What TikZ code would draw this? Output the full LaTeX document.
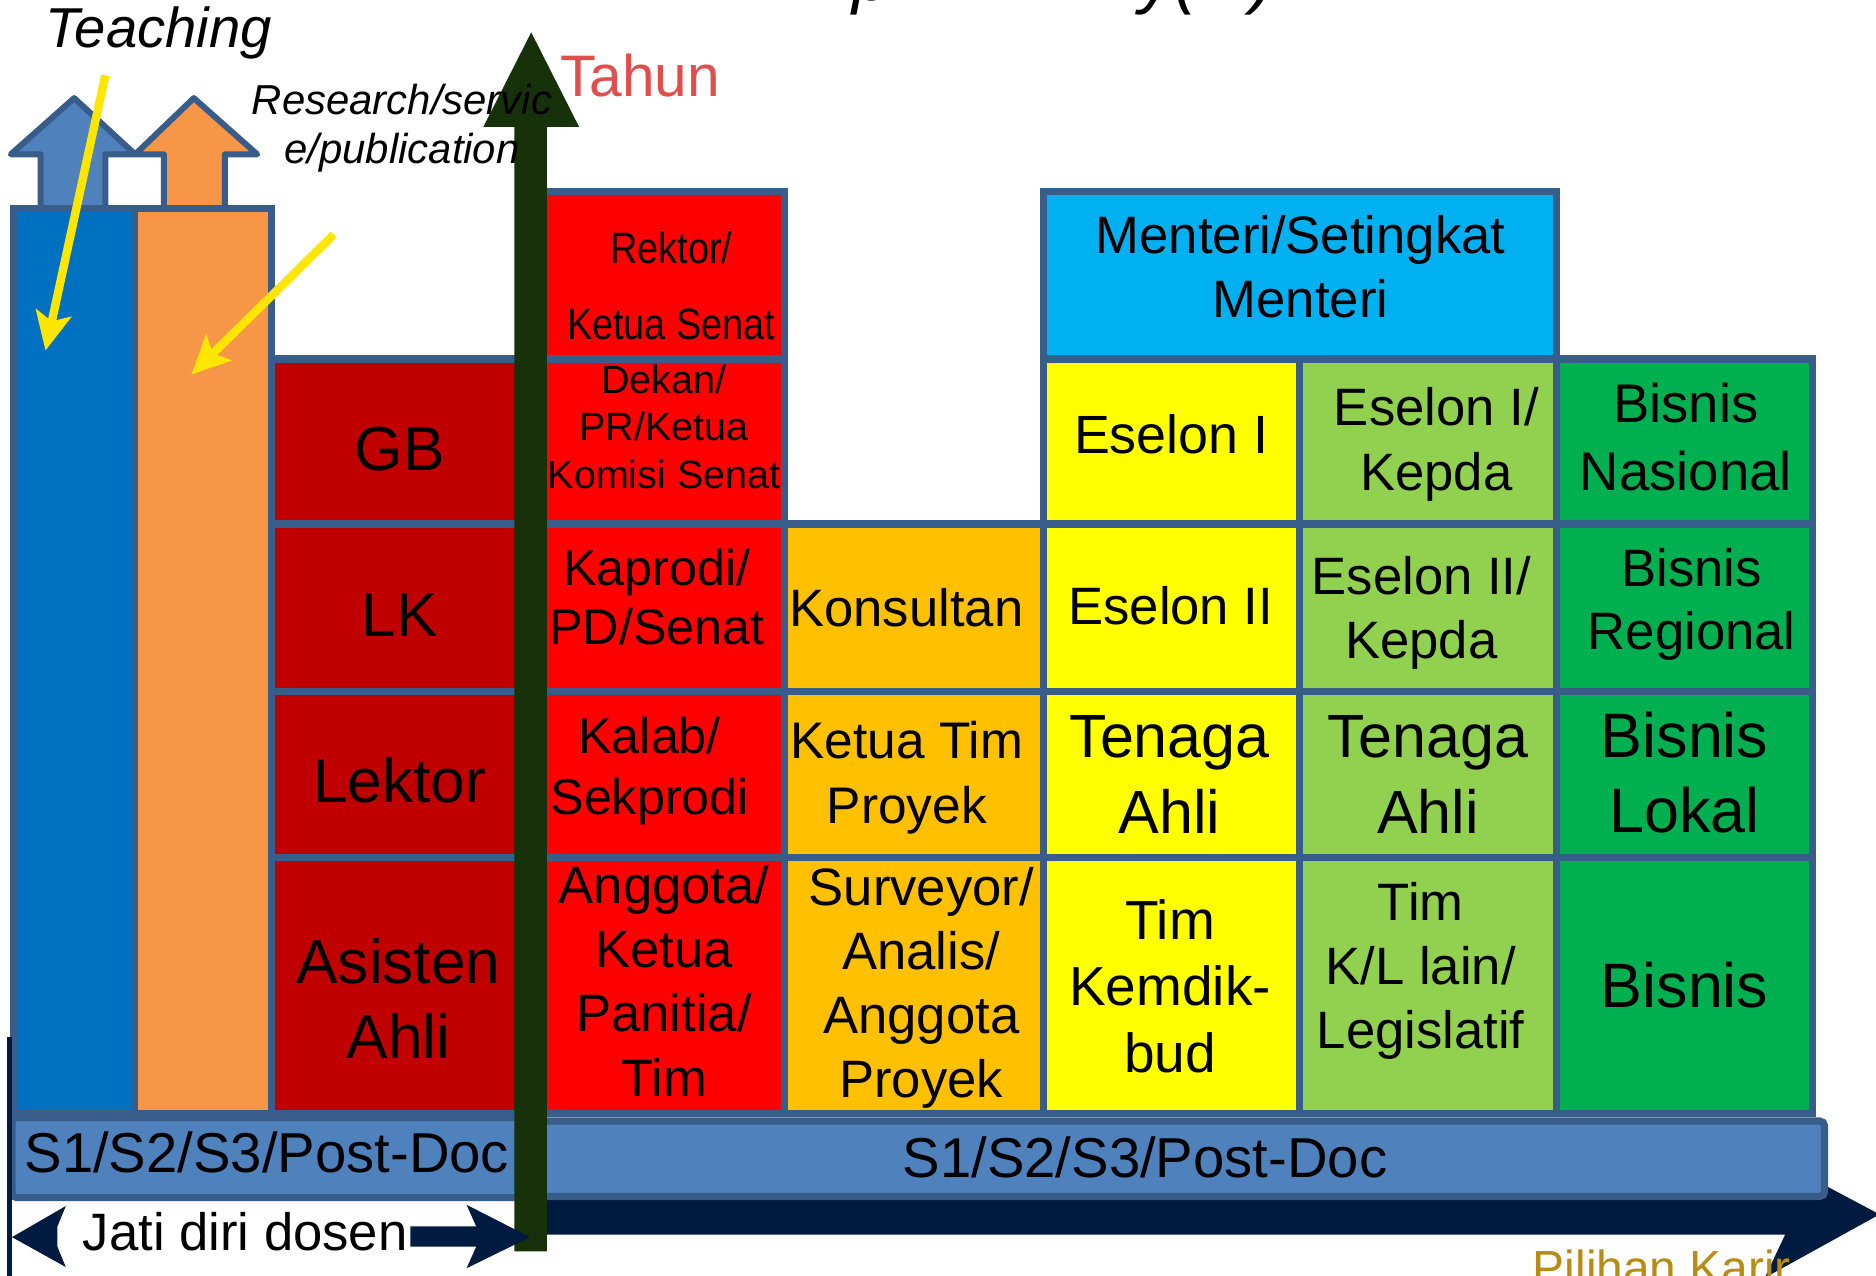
\documentclass[tikz,border=0pt]{standalone}
\usepackage{fontspec}
\setmainfont{Liberation Sans}
\usepackage{graphicx}
\usetikzlibrary{arrows.meta}
\definecolor{bord}{RGB}{56,93,138}
\definecolor{colblue}{RGB}{0,112,192}
\definecolor{colorange}{RGB}{247,150,70}
\definecolor{arrblue}{RGB}{79,129,189}
\definecolor{darkred}{RGB}{192,0,0}
\definecolor{brightred}{RGB}{255,0,0}
\definecolor{amber}{RGB}{255,192,0}
\definecolor{skyblue}{RGB}{0,176,240}
\definecolor{yell}{RGB}{255,255,0}
\definecolor{lgreen}{RGB}{146,208,80}
\definecolor{dgreen}{RGB}{0,176,80}
\definecolor{axisgreen}{RGB}{23,50,10}
\definecolor{navyc}{RGB}{0,26,64}
\definecolor{arrowyellow}{RGB}{255,230,0}
\definecolor{tahunred}{RGB}{224,78,78}
\definecolor{goldc}{RGB}{184,138,22}
\newcommand\lines[3]{\fontsize{#1}{#2}\selectfont\begin{tabular}[t]{@{}c@{}}#3\end{tabular}}
\newcommand\fsz[1]{\fontsize{#1}{#1}\selectfont}
\begin{document}
\begin{tikzpicture}[x=1pt,y=-1pt,
  cell/.style={draw=bord, line width=6pt, rectangle, inner sep=0pt, outer sep=0pt},
  bar/.style={draw=bord, line width=6pt, fill=arrblue, rectangle, rounded corners=4pt, inner sep=0pt},
  txt/.style={anchor=base, inner sep=0pt, text=black},
  uparrow/.style={draw=bord, line width=5pt, line join=round},
  yarrow/.style={draw=arrowyellow, line width=7pt, -{Stealth[length=32pt,width=30pt,inset=7pt]}}
]
\useasboundingbox (0,0) rectangle (1568,1066);

% title fragments (cut off at the top, as in the reference)
\node[txt, anchor=base west, font=\fsz{59}\itshape] (tp) at (712,0) {p};
\node[txt, anchor=base west, font=\fsz{59}\itshape] (ty) at (952,0) {y(};
\node[txt, anchor=base west, font=\fsz{59}\itshape] (tq) at (1046,0) {)};

% up arrows on the columns
\draw[uparrow, fill=arrblue] (34,174) -- (34,129) -- (9,129) -- (62,82) -- (113,129) -- (88,129) -- (88,174) -- cycle;
\draw[uparrow, fill=colorange] (137,174) -- (137,129) -- (113,129) -- (162,82) -- (215,129) -- (188,129) -- (188,174) -- cycle;

% columns
\node[cell, fill=colblue, minimum width=101.5pt, minimum height=757pt] (teachcol) at (61.75,552.5) {};
\node[cell, fill=colorange, minimum width=114.5pt, minimum height=757pt] (rescol) at (169.75,552.5) {};

% dark red column
\node[cell, fill=darkred, minimum width=217pt, minimum height=138pt] (gb) at (335.5,369) {};
\node[cell, fill=darkred, minimum width=217pt, minimum height=140pt] (lk) at (335.5,508) {};
\node[cell, fill=darkred, minimum width=217pt, minimum height=139pt] (lektor) at (335.5,647.5) {};
\node[cell, fill=darkred, minimum width=217pt, minimum height=214pt] (asisten) at (335.5,824) {};

% red column
\node[cell, fill=brightred, minimum width=210pt, minimum height=140pt] (rektor) at (551,230) {};
\node[cell, fill=brightred, minimum width=210pt, minimum height=138pt] (dekan) at (551,369) {};
\node[cell, fill=brightred, minimum width=210pt, minimum height=140pt] (kaprodi) at (551,508) {};
\node[cell, fill=brightred, minimum width=210pt, minimum height=139pt] (kalab) at (551,647.5) {};
\node[cell, fill=brightred, minimum width=210pt, minimum height=214pt] (anggota) at (551,824) {};

% amber column
\node[cell, fill=amber, minimum width=216pt, minimum height=140pt] (konsultan) at (764,508) {};
\node[cell, fill=amber, minimum width=216pt, minimum height=139pt] (ketuatim) at (764,647.5) {};
\node[cell, fill=amber, minimum width=216pt, minimum height=214pt] (surveyor) at (764,824) {};

% Menteri
\node[cell, fill=skyblue, minimum width=429pt, minimum height=140pt] (menteri) at (1086.5,230) {};

% yellow column
\node[cell, fill=yell, minimum width=214pt, minimum height=138pt] (es1) at (979,369) {};
\node[cell, fill=yell, minimum width=214pt, minimum height=140pt] (es2) at (979,508) {};
\node[cell, fill=yell, minimum width=214pt, minimum height=139pt] (ta1) at (979,647.5) {};
\node[cell, fill=yell, minimum width=214pt, minimum height=214pt] (kemdik) at (979,824) {};

% light green column
\node[cell, fill=lgreen, minimum width=215pt, minimum height=138pt] (es1k) at (1193.5,369) {};
\node[cell, fill=lgreen, minimum width=215pt, minimum height=140pt] (es2k) at (1193.5,508) {};
\node[cell, fill=lgreen, minimum width=215pt, minimum height=139pt] (ta2) at (1193.5,647.5) {};
\node[cell, fill=lgreen, minimum width=215pt, minimum height=214pt] (kl) at (1193.5,824) {};

% green column
\node[cell, fill=dgreen, minimum width=214pt, minimum height=138pt] (bnas) at (1408,369) {};
\node[cell, fill=dgreen, minimum width=214pt, minimum height=140pt] (breg) at (1408,508) {};
\node[cell, fill=dgreen, minimum width=214pt, minimum height=139pt] (blok) at (1408,647.5) {};
\node[cell, fill=dgreen, minimum width=214pt, minimum height=214pt] (bis) at (1408,824) {};

% navy horizontal arrow (Pilihan Karir)
\fill[navyc] (445,1000) -- (1492,1000) -- (1475,964) -- (1571,1015) -- (1475,1068) -- (1492,1032) -- (445,1032) -- cycle;

% S1 bars
\node[bar, minimum width=430pt, minimum height=67pt] (s1left) at (225,967.5) {};
\node[bar, minimum width=1073pt, minimum height=63pt] (s1right) at (988.5,968.5) {};

% green vertical axis (Tahun)
\fill[axisgreen] (430,1046) -- (430,106) -- (404,106) -- (444,27) -- (484,106) -- (457,106) -- (457,1046) -- cycle;

% Jati diri dosen double arrow
\fill[navyc] (10,1034) -- (55,1008) -- (48,1025) -- (48,1042) -- (55,1059) -- cycle;
\fill[navyc] (343,1025) -- (398,1025) -- (390,1007) -- (443,1034) -- (390,1060) -- (398,1042) -- (343,1042) -- cycle;
\coordinate (vlA) at (8,867);
\coordinate (vlB) at (8,1070);
\draw[navyc, line width=4.5pt] (vlA) -- (vlB);

% yellow arrows
\coordinate (teachS) at (88,63);
\coordinate (teachE) at (38,293);
\coordinate (resS) at (279,196);
\coordinate (resE) at (160,313);
\draw[yarrow] (teachS) -- (teachE);
\draw[yarrow] (resS) -- (resE);

% labels
\node[txt, anchor=base west, font=\fsz{47}\itshape] (teaching) at (38,40) {Teaching};
\node[txt, font=\itshape] (research) at (336,96) {\lines{35}{41}{Research/servic\\e/publication}};
\node[txt, anchor=base west, text=tahunred, font=\fsz{49}] (tahun) at (468,81) {Tahun};

\node[txt, font=\fsz{52}] (tgb) at (334,393) {GB};
\node[txt, font=\fsz{52}] (tlk) at (334,532) {LK};
\node[txt, font=\fsz{52}] (tlektor) at (334,671) {Lektor};
\node[txt] (tasisten) at (333,822) {\lines{52}{63}{Asisten\\Ahli}};

\node[txt] (trektor) at (561,220) {\scalebox{0.93}[1.08]{\lines{34}{59}{Rektor/\\Ketua Senat}}};
\node[txt] (tdekan) at (555,329) {\lines{33}{39.5}{Dekan/\\PR/Ketua\\Komisi Senat}};
\node[txt] (tkaprodi) at (549,489) {\lines{42}{50}{Kaprodi/\\PD/Senat}};
\node[txt] (tkalab) at (543,630) {\lines{42}{51}{Kalab/\\Sekprodi}};
\node[txt] (tanggota) at (555,755) {\lines{44}{53.7}{Anggota/\\Ketua\\Panitia/\\Tim}};

\node[txt, font=\fsz{44}] (tkonsultan) at (757.5,524) {Konsultan};
\node[txt] (tketuatim) at (758,634) {\lines{43}{54}{Ketua Tim\\Proyek}};
\node[txt] (tsurveyor) at (770,757) {\lines{44}{53.5}{Surveyor/\\Analis/\\Anggota\\Proyek}};

\node[txt] (tmenteri) at (1087,212) {\lines{44}{53}{Menteri/Setingkat\\Menteri}};

\node[txt, font=\fsz{45}] (tes1) at (979,379) {Eselon I};
\node[txt, font=\fsz{44}] (tes2) at (978.5,522) {Eselon II};
\node[txt] (tta1) at (977.5,633) {\lines{51}{64}{Tenaga\\Ahli}};
\node[txt] (tkemdik) at (978,785) {\lines{46}{55.5}{Tim\\Kemdik-\\bud}};

\node[txt] (tes1k) at (1200.5,356) {\lines{44}{54}{Eselon I/\\Kepda}};
\node[txt] (tes2k) at (1188,497) {\lines{44}{53}{Eselon II/\\Kepda}};
\node[txt] (tta2) at (1193.5,633) {\lines{51}{64}{Tenaga\\Ahli}};
\node[txt] (tkl) at (1187.5,769) {\lines{44}{53.5}{Tim\\K/L lain/\\Legislatif}};

\node[txt] (tbnas) at (1409,353) {\lines{45.5}{57}{Bisnis\\Nasional}};
\node[txt] (tbreg) at (1414,490) {\lines{44}{53}{Bisnis\\Regional}};
\node[txt] (tblok) at (1408,633) {\lines{52.5}{63}{Bisnis\\Lokal}};
\node[txt, font=\fsz{52.5}] (tbis) at (1408,842) {Bisnis};

\node[txt, font=\fsz{47}] (ts1l) at (223,980) {S1/S2/S3/Post-Doc};
\node[txt, font=\fsz{47}] (ts1r) at (957,984) {S1/S2/S3/Post-Doc};

\node[txt, anchor=base west, font=\fsz{44}] (jati) at (69,1045) {Jati diri dosen};
\node[txt, anchor=base west, text=goldc, font=\fsz{40}] (pilihan) at (1281,1074) {Pilihan Karir};
\end{tikzpicture}
\end{document}
